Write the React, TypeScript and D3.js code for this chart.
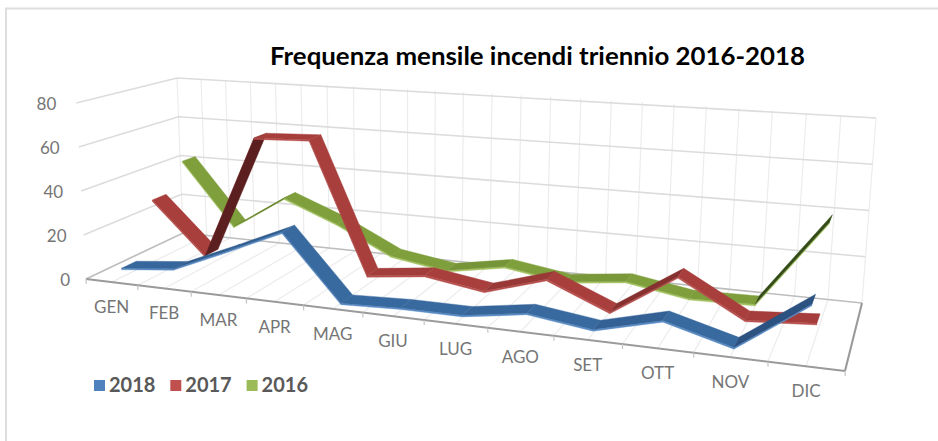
import React from "react";
import * as d3 from "d3";

const months = ["GEN","FEB","MAR","APR","MAG","GIU","LUG","AGO","SET","OTT","NOV","DIC"];
const yTicks = [0,20,40,60,80];
const values2018 = [4,6.5,17,28,0,1,1,5,1.5,8.5,1,22];
const values2017 = [29,5,62,63,4,7,3,11,0,18,3,5];
const values2016 = [42,12,28,18,5.5,1.5,6,2,5,0.5,1,39];
const legendYears = ["2018","2017","2016"];

type P = [number, number];
const W = 938, H = 441;

function homography(q: P[]) {
  const [p0, p1, p2, p3] = q;
  const dx1 = p1[0] - p2[0], dx2 = p3[0] - p2[0], sx = p0[0] - p1[0] + p2[0] - p3[0];
  const dy1 = p1[1] - p2[1], dy2 = p3[1] - p2[1], sy = p0[1] - p1[1] + p2[1] - p3[1];
  const det = dx1 * dy2 - dx2 * dy1;
  const g = (sx * dy2 - dx2 * sy) / det;
  const h = (dx1 * sy - sx * dy1) / det;
  const a = p1[0] - p0[0] + g * p1[0], b = p3[0] - p0[0] + h * p3[0], c = p0[0];
  const d = p1[1] - p0[1] + g * p1[1], e = p3[1] - p0[1] + h * p3[1], f = p0[1];
  return (u: number, w: number): P => {
    const k = g * u + h * w + 1;
    return [(a * u + b * w + c) / k, (d * u + e * w + f) / k];
  };
}

const floor = homography([[86,279],[845,371],[862,303],[183,233]]);
const ceiling = homography([[72,103],[861,170],[876,118],[177,78]]);
const vanish: P = [414, 6217];

const uScale = d3.scaleLinear().domain([0, 12]).range([0, 1]);
const vScale = d3.scaleLinear().domain([0, 80]).range([0, 1]);
const shade = d3.scaleLinear().domain([0, 40]).range([0, 1]).clamp(true);

function proj(i: number, w: number, val: number): P {
  const a = floor(uScale(i), w), b = ceiling(uScale(i), w), t = vScale(val);
  const y = a[1] + (b[1] - a[1]) * t;
  const x = a[0] + (vanish[0] - a[0]) * (y - a[1]) / (vanish[1] - a[1]);
  return [x, y];
}
const path = (pts: P[]) => "M" + pts.map(p => p[0].toFixed(2) + "," + p[1].toFixed(2)).join("L") + "Z";

const seriesDefs = [
  { name: "2016", vals: values2016, w: 0.83, face: "#7f9f3c", dark: "#2f4714", lip: "#a6c464" },
  { name: "2017", vals: values2017, w: 0.5, face: "#a83f3d", dark: "#5c1f1f", lip: "#b8504e" },
  { name: "2018", vals: values2018, w: 0.17, face: "#38699f", dark: "#1f3d63", lip: "#5a8cc6" },
];
const halfW = 0.072;

export default function App() {
  const wall: P[] = [proj(0,1,0),proj(12,1,0),proj(12,1,80),proj(0,1,80)];
  const grid = "#dcdcdc", minor = "#ececec";
  return (
    <svg width={W} height={H} style={{ position: "absolute", left: 0, top: 0, background: "#fff" }}>
      <path d={`M6,441V8.5H938`} fill="none" stroke="#dedede" strokeWidth={2} />
      <text x={270} y={65} fontFamily="Lato" fontWeight={700} fontSize={24} fill="#000" textLength={535} lengthAdjust="spacingAndGlyphs">
        Frequenza mensile incendi triennio 2016-2018
      </text>
      <path d={path(wall)} fill="#fff" />
      {d3.range(0, 24.01, 1).map(k => {
        const i = k / 2;
        const a = proj(i,1,0), b = proj(i,1,80), c = proj(i,0,0);
        return <g key={k}>
          <line x1={a[0]} y1={a[1]} x2={b[0]} y2={b[1]} stroke={minor} strokeWidth={1.2} />
          <line x1={a[0]} y1={a[1]} x2={c[0]} y2={c[1]} stroke={minor} strokeWidth={1.2} />
        </g>;
      })}
      {yTicks.map(t => {
        const a = proj(0,0,t), b = proj(0,1,t), c = proj(12,1,t);
        return <g key={t}>
          <polyline points={[a,b,c].map(p => p.join(",")).join(" ")} fill="none" stroke={t === 0 ? "#bdbdbd" : grid} strokeWidth={1.6} />
          <text x={a[0] - 16 - 4 * vScale(t)} y={a[1] + 7} textAnchor="end" fontFamily="Lato" fontSize={17} fill="#757575">{t}</text>
        </g>;
      })}
      <line x1={proj(12,0,0)[0]} y1={proj(12,0,0)[1]} x2={proj(12,1,0)[0]} y2={proj(12,1,0)[1]} stroke="#9a9a9a" strokeWidth={2} />
      <line x1={proj(0,0,0)[0]} y1={proj(0,0,0)[1]} x2={proj(12,0,0)[0]} y2={proj(12,0,0)[1]} stroke="#9a9a9a" strokeWidth={2} />
      {d3.range(0, 13).map(i => {
        const a = proj(i,0,0);
        return <line key={i} x1={a[0]} y1={a[1]} x2={a[0] + 0.3} y2={a[1] + 5} stroke="#c4c4c4" strokeWidth={1.2} />;
      })}
      {months.map((m, i) => {
        const a = proj(i + 0.5, 0, 0);
        return <text key={m} x={a[0]} y={a[1] + 31} textAnchor="middle" fontFamily="Lato" fontSize={17} fill="#757575">{m}</text>;
      })}
      {seriesDefs.map(s => (
        <g key={s.name}>
          {d3.pairs(s.vals.map((v, i) => [v, i] as [number, number])).map(([[v0, i0], [v1, i1]]) => {
            const x0 = i0 + 0.5, x1 = i1 + 0.5;
            const top: P[] = [proj(x0, s.w - halfW, v0), proj(x1, s.w - halfW, v1), proj(x1, s.w + halfW, v1), proj(x0, s.w + halfW, v0)];
            const lip: P[] = [top[0], top[1], proj(x1, s.w - halfW, v1 - 0.7), proj(x0, s.w - halfW, v0 - 0.7)];
            // a rising ribbon tilts away from the light, so it is drawn darker the steeper it climbs
            const fill = d3.interpolateRgb(s.face, s.dark)(shade(v1 - v0));
            return <g key={i0}>
              <path d={path(lip)} fill={s.lip} stroke={s.lip} strokeWidth={0.3} />
              <path d={path(top)} fill={fill} stroke={fill} strokeWidth={0.4} />
            </g>;
          })}
        </g>
      ))}
      {legendYears.map((y, i) => {
        const color = ["#4f81bd", "#c0504d", "#9bbb59"][i];
        const x = 94 + i * 76.3;
        return <g key={y}>
          <rect x={x} y={380} width={11} height={11} fill={color} />
          <text x={x + 15} y={392} fontFamily="Lato" fontWeight={700} fontSize={20} fill="#595959">{y}</text>
        </g>;
      })}
    </svg>
  );
}
